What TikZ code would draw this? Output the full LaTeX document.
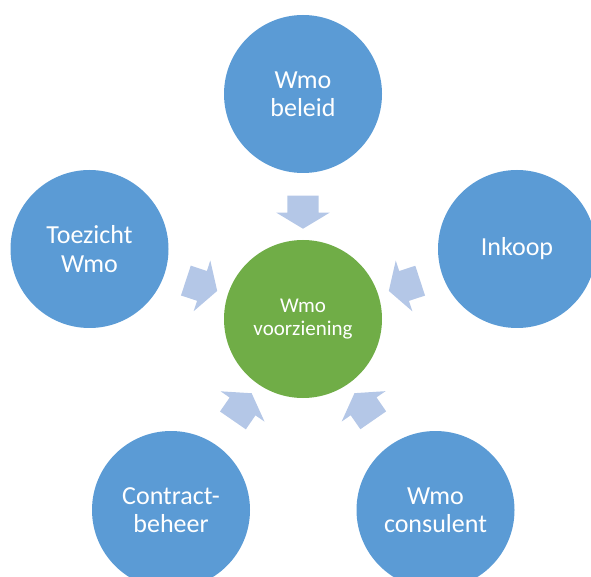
\documentclass[tikz,border=0pt]{standalone}
\usepackage{fontspec}
\setmainfont{Carlito}
\usepackage{xcolor}
\usepackage{tikz}
\usetikzlibrary{calc,shapes.arrows}

\definecolor{wmoblauw}{HTML}{5B9BD5}
\definecolor{wmogroen}{HTML}{70AD47}
\definecolor{pijlblauw}{HTML}{B4C7E7}

\begin{document}
\begin{tikzpicture}[x=1pt,y=1pt,
    rol/.style={circle,fill=wmoblauw,text=white,minimum size=158pt,inner sep=0pt,align=center,
        font=\fontsize{26}{28.3}\selectfont},
    kern/.style={circle,fill=wmogroen,text=white,minimum size=158pt,inner sep=0pt,align=center,
        font=\fontsize{21}{22.5}\selectfont},
    pijl/.style={single arrow,fill=pijlblauw,inner xsep=0pt,inner ysep=15.5pt,
        single arrow head extend=11pt,single arrow tip angle=118,minimum height=33pt}]
    \useasboundingbox (0,0) rectangle (591,576);
    % center and the five roles around it
    \node[kern] (voorziening) at (303,257) {Wmo\\voorziening};
    \node[rol] (beleid) at (303,482) {Wmo\\beleid};
    \node[rol] (toezicht) at (89.5,327) {Toezicht\\Wmo};
    \node[rol] (inkoop) at (517,327) {Inkoop};
    \node[rol] (contract) at (171,66) {Contract-\\beheer};
    \node[rol] (consulent) at (435.5,66) {Wmo\\consulent};
    % arrows pointing to the center
    \foreach \n/\a in {beleid/90, toezicht/161.8, inkoop/18.1, contract/235.4, consulent/304.7}
        \node[pijl,rotate=\a+180] (pijl-\n) at ($(voorziening.center)!111.5pt!(\n.center)$) {};
\end{tikzpicture}
\end{document}
